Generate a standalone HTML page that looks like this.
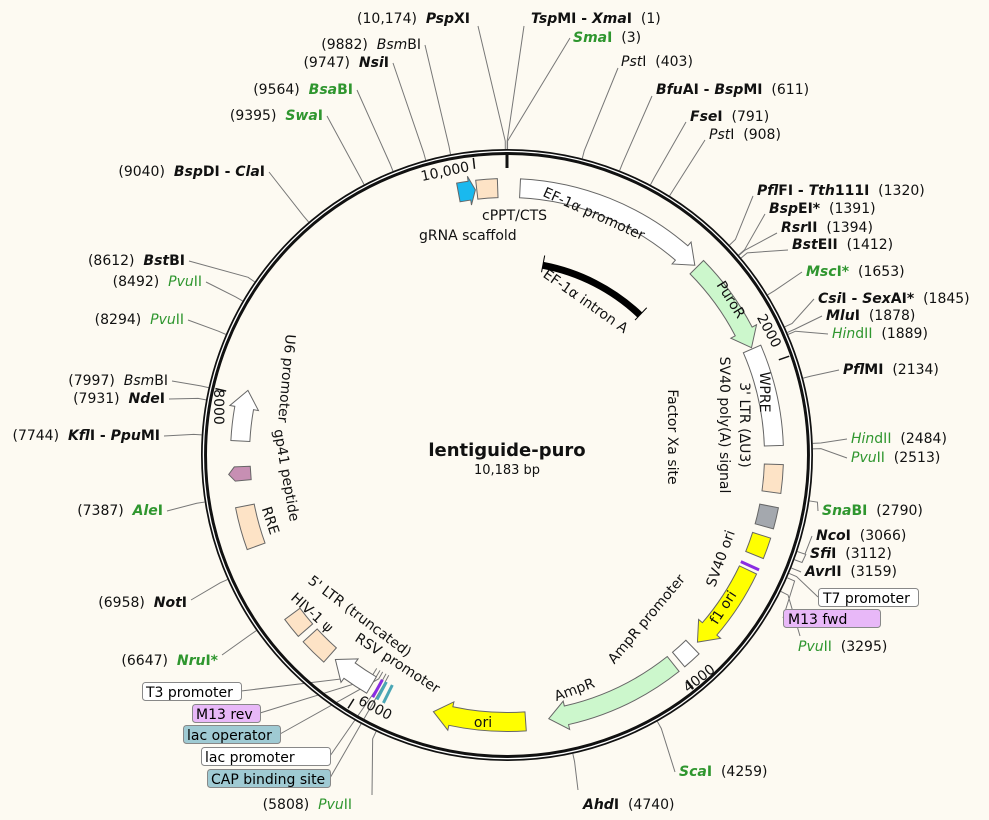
<!DOCTYPE html>
<html><head><meta charset="utf-8"><style>
html,body{margin:0;padding:0;background:#fdfaf2;}
svg{display:block;font-family:"DejaVu Sans","Liberation Sans",sans-serif;font-size:14px;}
svg text{white-space:pre;}
.b{font-weight:bold}.i{font-style:italic}.g{fill:#2f962f}
.f{fill:#111}
</style></head><body>
<svg id="s" width="989" height="820" viewBox="0 0 989 820" xmlns="http://www.w3.org/2000/svg">
<rect width="989" height="820" fill="#fdfaf2"/>
<g id="lines" stroke="#777" stroke-width="1" fill="none"></g>
<circle cx="507" cy="455" r="303" fill="none" stroke="#111" stroke-width="6"/>
<circle cx="507" cy="455" r="303.6" fill="none" stroke="#fff" stroke-width="1.3"/>
<g id="feat" stroke="#666" stroke-width="1"></g>
<line x1="507" y1="152" x2="507" y2="168" stroke="#111" stroke-width="3"/>
<g id="ticks" stroke="#111" stroke-width="2"></g>

<g fill="#111">
<text x="531" y="23"><tspan class="b"><tspan class="i">Tsp</tspan>MI - <tspan class="i">Xma</tspan>I</tspan>  (1)</text>
<text x="573" y="42"><tspan class="b g"><tspan class="i">Sma</tspan>I</tspan>  (3)</text>
<text x="621" y="66"><tspan class="i">Pst</tspan>I  (403)</text>
<text x="656" y="94"><tspan class="b"><tspan class="i">Bfu</tspan>AI - <tspan class="i">Bsp</tspan>MI</tspan>  (611)</text>
<text x="690" y="121"><tspan class="b"><tspan class="i">Fse</tspan>I</tspan>  (791)</text>
<text x="709" y="139"><tspan class="i">Pst</tspan>I  (908)</text>
<text x="757" y="195"><tspan class="b"><tspan class="i">Pfl</tspan>FI - <tspan class="i">Tth</tspan>111I</tspan>  (1320)</text>
<text x="769" y="213"><tspan class="b"><tspan class="i">Bsp</tspan>EI*</tspan>  (1391)</text>
<text x="781" y="232"><tspan class="b"><tspan class="i">Rsr</tspan>II</tspan>  (1394)</text>
<text x="792" y="249"><tspan class="b"><tspan class="i">Bst</tspan>EII</tspan>  (1412)</text>
<text x="806" y="276"><tspan class="b g"><tspan class="i">Msc</tspan>I*</tspan>  (1653)</text>
<text x="818" y="303"><tspan class="b"><tspan class="i">Csi</tspan>I - <tspan class="i">Sex</tspan>AI*</tspan>  (1845)</text>
<text x="826" y="320"><tspan class="b"><tspan class="i">Mlu</tspan>I</tspan>  (1878)</text>
<text x="832" y="338"><tspan class="g"><tspan class="i">Hin</tspan>dII</tspan>  (1889)</text>
<text x="843" y="374"><tspan class="b"><tspan class="i">Pfl</tspan>MI</tspan>  (2134)</text>
<text x="851" y="443"><tspan class="g"><tspan class="i">Hin</tspan>dII</tspan>  (2484)</text>
<text x="851" y="462"><tspan class="g"><tspan class="i">Pvu</tspan>II</tspan>  (2513)</text>
<text x="822" y="515"><tspan class="b g"><tspan class="i">Sna</tspan>BI</tspan>  (2790)</text>
<text x="816" y="540"><tspan class="b"><tspan class="i">Nco</tspan>I</tspan>  (3066)</text>
<text x="810" y="558"><tspan class="b"><tspan class="i">Sfi</tspan>I</tspan>  (3112)</text>
<text x="805" y="576"><tspan class="b"><tspan class="i">Avr</tspan>II</tspan>  (3159)</text>
<text x="798" y="651"><tspan class="g"><tspan class="i">Pvu</tspan>II</tspan>  (3295)</text>
<text x="679" y="776"><tspan class="b g"><tspan class="i">Sca</tspan>I</tspan>  (4259)</text>
<text x="583" y="809"><tspan class="b"><tspan class="i">Ahd</tspan>I</tspan>  (4740)</text>
</g>
<g fill="#111" text-anchor="end">
<text x="470" y="23">(10,174)  <tspan class="b"><tspan class="i">Psp</tspan>XI</tspan></text>
<text x="421" y="49">(9882)  <tspan class="i">Bsm</tspan>BI</text>
<text x="389" y="67">(9747)  <tspan class="b"><tspan class="i">Nsi</tspan>I</tspan></text>
<text x="353" y="94">(9564)  <tspan class="b g"><tspan class="i">Bsa</tspan>BI</tspan></text>
<text x="323" y="120">(9395)  <tspan class="b g"><tspan class="i">Swa</tspan>I</tspan></text>
<text x="265" y="176">(9040)  <tspan class="b"><tspan class="i">Bsp</tspan>DI - <tspan class="i">Cla</tspan>I</tspan></text>
<text x="185" y="265">(8612)  <tspan class="b"><tspan class="i">Bst</tspan>BI</tspan></text>
<text x="202" y="286">(8492)  <tspan class="g"><tspan class="i">Pvu</tspan>II</tspan></text>
<text x="184" y="324">(8294)  <tspan class="g"><tspan class="i">Pvu</tspan>II</tspan></text>
<text x="168" y="385">(7997)  <tspan class="i">Bsm</tspan>BI</text>
<text x="165" y="403">(7931)  <tspan class="b"><tspan class="i">Nde</tspan>I</tspan></text>
<text x="160" y="440">(7744)  <tspan class="b"><tspan class="i">Kfl</tspan>I - <tspan class="i">Ppu</tspan>MI</tspan></text>
<text x="163" y="515">(7387)  <tspan class="b g"><tspan class="i">Ale</tspan>I</tspan></text>
<text x="187" y="607">(6958)  <tspan class="b"><tspan class="i">Not</tspan>I</tspan></text>
<text x="218" y="665">(6647)  <tspan class="b g"><tspan class="i">Nru</tspan>I*</tspan></text>
<text x="352" y="809">(5808)  <tspan class="g"><tspan class="i">Pvu</tspan>II</tspan></text>
</g>
<g font-size="14">
<rect x="818.5" y="588.5" width="100" height="18" rx="3" fill="#fff" stroke="#888"/><text x="823" y="603">T7 promoter</text>
<rect x="783.5" y="609.5" width="97" height="18" rx="3" fill="#e8b8f8" stroke="#888"/><text x="788" y="624">M13 fwd</text>
<rect x="142.5" y="682.5" width="99" height="18" rx="3" fill="#fff" stroke="#888"/><text x="146" y="697">T3 promoter</text>
<rect x="192.5" y="704.5" width="68" height="18" rx="3" fill="#e8b8f8" stroke="#888"/><text x="196" y="719">M13 rev</text>
<rect x="183.5" y="725.5" width="97" height="18" rx="3" fill="#9fcad3" stroke="#888"/><text x="187" y="740">lac operator</text>
<rect x="201.5" y="747.5" width="129" height="18" rx="3" fill="#fff" stroke="#888"/><text x="205" y="762">lac promoter</text>
<rect x="207.5" y="769.5" width="123" height="18" rx="3" fill="#9fcad3" stroke="#888"/><text x="211" y="784">CAP binding site</text>
</g>
<g class="f" font-size="14">
<text x="592" y="218" transform="rotate(24 592 218)" text-anchor="middle">EF-1α promoter</text>
<text x="482" y="220">cPPT/CTS</text>
<text x="419" y="240">gRNA scaffold</text>
<text x="727" y="302" transform="rotate(58 727 302)" text-anchor="middle">PuroR</text>
<text x="765" y="333" transform="rotate(62 765 333)" text-anchor="middle">2000</text>
<text x="760" y="392" transform="rotate(90 760 392)" text-anchor="middle">WPRE</text>
<text x="740" y="425" transform="rotate(90 740 425)" text-anchor="middle">3' LTR (ΔU3)</text>
<text x="720" y="425" transform="rotate(90 720 425)" text-anchor="middle">SV40 poly(A) signal</text>
<text x="668" y="437" transform="rotate(90 668 437)" text-anchor="middle">Factor Xa site</text>
<text x="725" y="560" transform="rotate(-70 725 560)" text-anchor="middle">SV40 ori</text>
<text x="727" y="610" transform="rotate(-57 727 610)" text-anchor="middle">f1 ori</text>
<text x="650" y="622" transform="rotate(-50 650 622)" text-anchor="middle">AmpR promoter</text>
<text x="702" y="682" transform="rotate(-38 702 682)" text-anchor="middle">4000</text>
<text x="576" y="694" transform="rotate(-20 576 694)" text-anchor="middle">AmpR</text>
<text x="483" y="727" text-anchor="middle">ori</text>
<text x="373" y="712" transform="rotate(28 373 712)" text-anchor="middle">6000</text>
<text x="395" y="667" transform="rotate(33 395 667)" text-anchor="middle">RSV promoter</text>
<text x="357" y="620" transform="rotate(37 357 620)" text-anchor="middle">5' LTR (truncated)</text>
<text x="309" y="616" transform="rotate(42 309 616)" text-anchor="middle">HIV-1 ψ</text>
<text x="266" y="522" transform="rotate(72 266 522)" text-anchor="middle">RRE</text>
<text x="282" y="476" transform="rotate(80 282 476)" text-anchor="middle">gp41 peptide</text>
<text x="282" y="378" transform="rotate(95 282 378)" text-anchor="middle">U6 promoter</text>
<text x="214" y="407" transform="rotate(90 214 407)" text-anchor="middle">8000</text>
<text x="446" y="176" transform="rotate(-12 446 176)" text-anchor="middle">10,000</text>
<text x="583" y="305" transform="rotate(35 583 305)" text-anchor="middle">EF-1α intron A</text>
</g>
<text x="507" y="456" text-anchor="middle" font-size="18" font-weight="bold" fill="#111">lentiguide-puro</text>
<text x="507" y="474" text-anchor="middle" font-size="13" fill="#111">10,183 bp</text>
<g id="intron"></g>
</svg>
<script>
var NS="http://www.w3.org/2000/svg",CX=507,CY=455,T=10183;
function P(d,r){var a=d*Math.PI/180;return [CX+r*Math.sin(a),CY-r*Math.cos(a)];}
function bd(b){return b/T*360;}
function el(p,tag,at){var e=document.createElementNS(NS,tag);for(var k in at)e.setAttribute(k,at[k]);p.appendChild(e);return e;}
var L=document.getElementById('lines');
var lab=[[478,26,10174],[524,26,1],[570,38,3],[618,68,403],[652,96,611],[686,122,791],[705,140,908],
[753,196,1320],[765,214,1391],[777,233,1394],[788,250,1412],[802,272,1653],[814,299,1845],[822,316,1878],[828,334,1889],
[839,370,2134],[847,439,2484],[847,458,2513],[818,511,2790],[812,536,3066],[806,554,3112],[801,572,3159],
[818,597,3190],[783,618,3215],[800,636,3295],[675,772,4259],[578,790,4740],
[372,795,5808],[330,778,5890],[330,756,5910],[280,734,5935],[260,713,5955],[241,691,5980],
[222,655,6647],[191,600,6958],[167,511,7387],[164,436,7744],[169,399,7931],[172,381,7997],[188,320,8294],[206,282,8492],[189,261,8612],
[269,172,9040],[327,116,9395],[357,90,9564],[393,63,9747],[425,45,9882]];
lab.forEach(function(l){var d=bd(l[2]);var r=l[2]>5850&&l[2]<6000?250:306;var q=P(d,r+8),p=P(d,r);
el(L,'polyline',{points:l[0]+','+l[1]+' '+q[0]+','+q[1]+' '+p[0]+','+p[1]});});
var F=document.getElementById('feat'),R=267,W=9.5;
function arc(a1,a2,r1,r2){var s=P(a1,r2),e=P(a2,r2),s2=P(a2,r1),e2=P(a1,r1);var lg=(a2-a1)>180?1:0;
return 'M'+s+' A'+r2+','+r2+' 0 '+lg+' 1 '+e+' L'+s2+' A'+r1+','+r1+' 0 '+lg+' 0 '+e2+' Z';}
function box(a1,a2,fill){el(F,'path',{d:arc(a1,a2,R-W,R+W),fill:fill});}
function arrow(a1,a2,fill,h){h=h||18;var hd=h/R*180/Math.PI;var m=a2-hd;
var o=P(m,R+W+5),i=P(m,R-W-5),t=P(a2,R);
var b1=P(m,R+W),b2=P(m,R-W);
el(F,'path',{d:'M'+P(a1,R+W)+' A'+(R+W)+','+(R+W)+' 0 0 1 '+b1+' L'+o+' L'+t+' L'+i+' L'+b2+' A'+(R-W)+','+(R-W)+' 0 0 0 '+P(a1,R-W)+' Z',fill:fill});}
arrow(2.8,44.7,'#fff');
arrow(45.3,66.3,'#ccf7cc');
box(66.6,88,'#fff');
box(92,98,'#fde3c6');
box(101,105.5,'#a4a8ae');
box(107.5,112,'#ffff00');
arrow(115.5,134.5,'#ffff00');
box(136,140,'#fff');
arrow(141.5,171,'#ccf7cc');
arrow(176,196,'#ffff00');
arrow(210.5,220,'#fff');
box(221.5,227.5,'#fde3c6');
box(229,233.5,'#fde3c6');
box(250,259,'#fde3c6');
arrow(273,284,'#fff');
box(-6.5,-2,'#fde3c6');
arrow(-10.5,-6.8,'#19b9ef',6);
el(F,'path',{d:'M'+P(264.5,R-10)+' L'+P(264.5,R+6)+' L'+P(266,R+12)+' L'+P(267.5,R+6)+' L'+P(267.5,R-10)+' Z',fill:'#c78fb3'});
[[209,'#8a2be2'],[208,'#4aa6b5'],[206.5,'#4aa6b5'],[114.5,'#8a2be2']].forEach(function(m){
var a=P(m[0],R-10),b=P(m[0],R+10);el(F,'line',{x1:a[0],y1:a[1],x2:b[0],y2:b[1],stroke:m[1],'stroke-width':3});});
var TK=document.getElementById('ticks');
[2000,4000,6000,8000,10000].forEach(function(b){var a=P(bd(b),299),c=P(bd(b),288);el(TK,'line',{x1:a[0],y1:a[1],x2:c[0],y2:c[1],'stroke-width':1.5});});
var I=document.getElementById('intron');var s=P(10.7,193),e=P(43.5,193);
el(I,'path',{d:'M'+s+' A193,193 0 0 1 '+e,fill:'none',stroke:'#000','stroke-width':7});
[10.7,43.5].forEach(function(x){var a=P(x,186),b=P(x,203);el(I,'line',{x1:a[0],y1:a[1],x2:b[0],y2:b[1],stroke:'#000','stroke-width':1});});
</script>
</body></html>
